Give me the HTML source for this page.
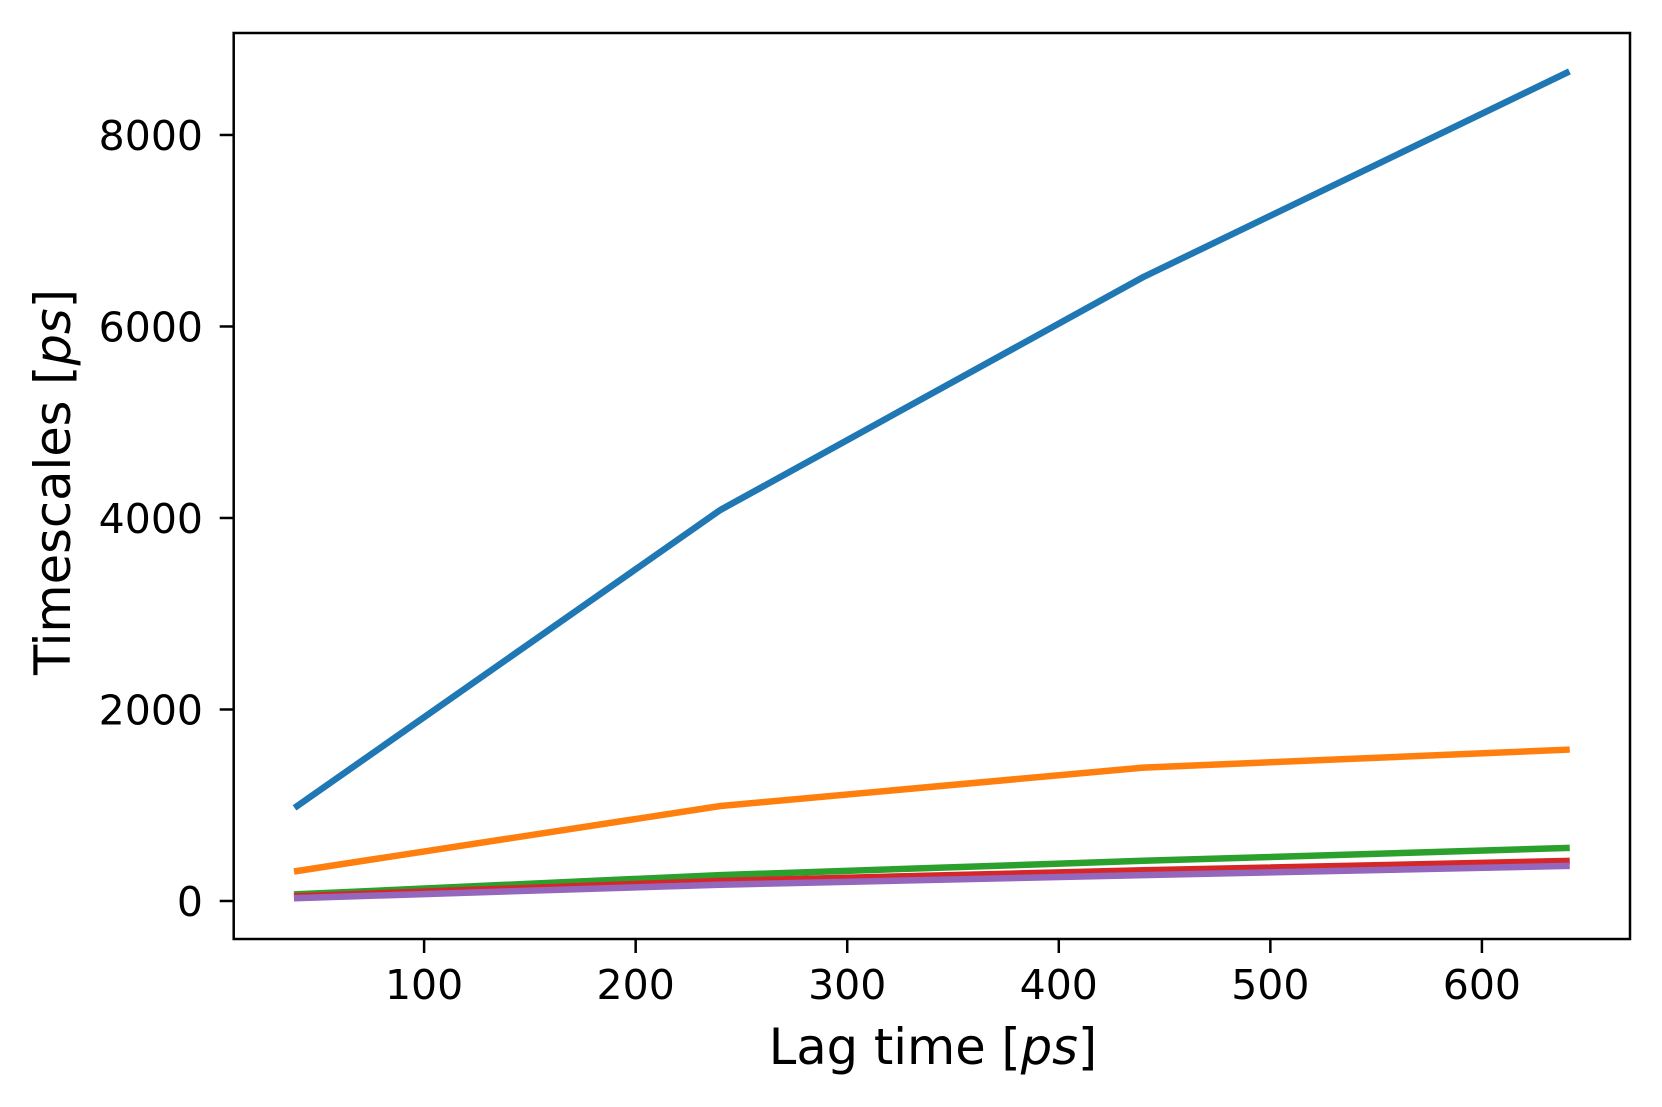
<!DOCTYPE html>
<html><head><meta charset="utf-8"><style>
html,body{margin:0;padding:0;background:#fff;}
svg{display:block;font-family:"DejaVu Sans","Liberation Sans",sans-serif;}
</style></head><body>
<svg id="chart" width="1662" height="1107">
<g id="plot"></g>
</svg>
<script>
const lagTimes = [40, 240, 440, 640];
const series1 = [992, 4083, 6517, 8648];
const series2 = [313, 992, 1393, 1580];
const series3 = [70, 270, 420, 553];
const series4 = [50, 210, 320, 418];
const series5 = [30, 170, 270, 365];
const xTicks = [100, 200, 300, 400, 500, 600];
const yTicks = [0, 2000, 4000, 6000, 8000];
const colors = ['#1f77b4', '#ff7f0e', '#2ca02c', '#d62728', '#9467bd'];

const L = 233.7, R = 1630, T = 33, B = 939;
const xMin = 10, xMax = 670, yMin = -397, yMax = 9065;
function px(x){ return L + (x - xMin) / (xMax - xMin) * (R - L); }
function py(y){ return B - (y - yMin) / (yMax - yMin) * (B - T); }

const NS = 'http://www.w3.org/2000/svg';
const g = document.getElementById('plot');
function mk(tag, attrs){ const e = document.createElementNS(NS, tag); for (const k in attrs) e.setAttribute(k, attrs[k]); g.appendChild(e); return e; }

const allSeries = [series1, series2, series3, series4, series5];
allSeries.forEach((s, i) => {
  const pts = s.map((v, j) => px(lagTimes[j]).toFixed(1) + ',' + py(v).toFixed(1)).join(' ');
  const pl = mk('polyline', {points: pts, fill: 'none', stroke: colors[i], 'stroke-width': 6.5, 'stroke-linecap': 'square', 'stroke-linejoin': 'round'});
  
  
});

const frame = mk('rect', {x: L, y: T, width: R - L, height: B - T, fill: 'none', stroke: '#000', 'stroke-width': 2.5});



xTicks.forEach(v => {
  const x = px(v);
  const t = mk('line', {x1: x, x2: x, y1: B, y2: B + 14, stroke: '#000', 'stroke-width': 2.5});
  
  
  const lb = mk('text', {x: x, y: 999, 'text-anchor': 'middle', 'font-size': 41, fill: '#000'});
  lb.textContent = v;
  
  
});
yTicks.forEach(v => {
  const y = py(v);
  const t = mk('line', {x1: L - 14, x2: L, y1: y, y2: y, stroke: '#000', 'stroke-width': 2.5});
  
  
  const lb = mk('text', {x: 203, y: y + 15, 'text-anchor': 'end', 'font-size': 41, fill: '#000'});
  lb.textContent = v;
  
  
});

const xl = mk('text', {x: 933, y: 1064, 'text-anchor': 'middle', 'font-size': 49.5, fill: '#000'});
xl.innerHTML = 'Lag time [<tspan font-style="italic">ps</tspan>]';


const yl = mk('text', {x: 0, y: 0, 'text-anchor': 'middle', 'font-size': 49.5, fill: '#000', transform: 'translate(70,482) rotate(-90)'});
yl.innerHTML = 'Timescales [<tspan font-style="italic">ps</tspan>]';


</script>
</body></html>
